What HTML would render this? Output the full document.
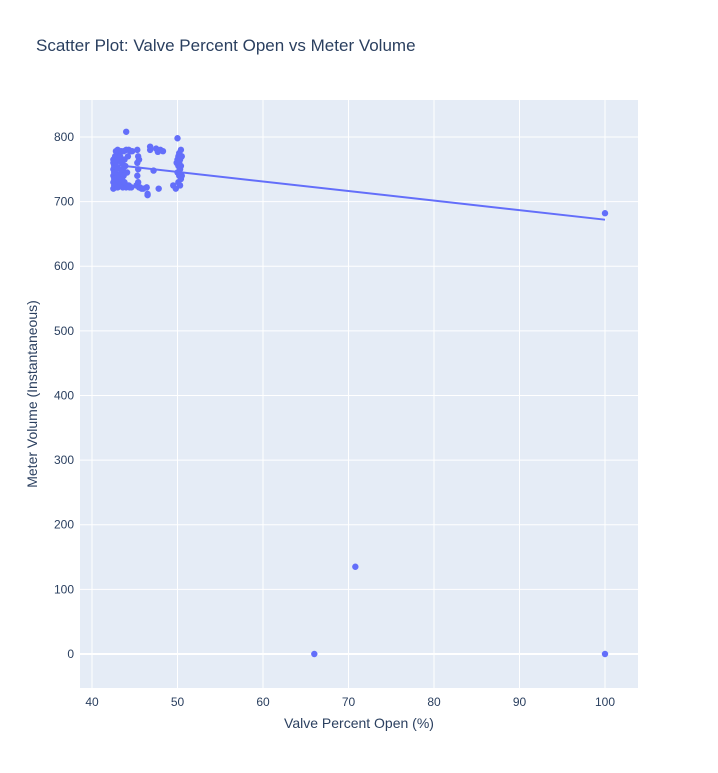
<!DOCTYPE html>
<html><head><meta charset="utf-8"><style>
body{margin:0;background:#fff;font-family:"Liberation Sans",sans-serif;}
svg text{font-family:"Liberation Sans",sans-serif;fill:#2a3f5f;}
</style></head><body>
<svg id="chart" width="718" height="768">
<rect width="718" height="768" fill="#fff"/>
<text x="36" y="51" font-size="17">Scatter Plot: Valve Percent Open vs Meter Volume</text>
<rect x="80" y="100" width="558" height="588" fill="#e5ecf6"/>
<g id="grid"></g><g id="marks"></g><g id="ticks"></g>
<text x="359" y="728" font-size="14" text-anchor="middle">Valve Percent Open (%)</text>
<text transform="translate(37,394) rotate(-90)" font-size="14" text-anchor="middle">Meter Volume (Instantaneous)</text>
</svg>
<script>
const xTicks=[40,50,60,70,80,90,100];
const yTicks=[0,100,200,300,400,500,600,700,800];
const valveX=[42.5,42.5,42.5,42.5,42.5,42.5,42.6,42.6,42.6,42.6,42.7,42.7,42.7,42.8,42.8,42.8,42.9,42.9,43.0,43.0,43.0,43.1,43.1,43.2,43.3,43.3,43.4,43.4,43.5,43.5,43.6,43.6,43.7,43.7,43.8,43.8,43.9,44.0,44.0,44.1,44.2,44.3,44.3,44.4,44.5,44.6,44.7,45.2,45.3,45.3,45.3,45.4,45.4,45.4,45.5,45.5,45.6,45.8,46.0,46.4,46.5,46.8,46.8,47.2,47.5,47.7,47.8,48.0,48.3,49.5,49.8,49.9,50.0,50.0,50.0,50.1,50.1,50.1,50.2,50.2,50.2,50.3,50.3,50.3,50.4,50.4,50.4,50.5,50.5,44.0,46.5,66,70.8,100,100];
const meterY=[720,730,740,750,760,765,725,735,745,755,722,745,770,728,760,778,735,775,722,752,780,740,765,730,725,770,745,778,735,760,722,750,740,778,730,765,755,722,780,745,770,725,780,722,778,722,778,725,740,760,780,730,750,770,722,765,722,720,720,722,710,780,785,748,782,777,720,780,778,725,720,760,745,765,798,730,755,770,740,760,775,725,750,765,735,755,780,740,770,808,712,0,135,682,0];
const fitX=[42.5,100];
const fitY=[757,672];
const sx=v=>-250+v*8.55, sy=v=>654-v*0.6463;
const NS='http://www.w3.org/2000/svg';
const g=document.getElementById('grid'),m=document.getElementById('marks'),t=document.getElementById('ticks');
function mk(p,tag,a){const e=document.createElementNS(NS,tag);for(const k in a)e.setAttribute(k,a[k]);p.appendChild(e);return e;}
xTicks.forEach(v=>{
 const l=mk(g,'line',{x1:sx(v),x2:sx(v),y1:100,y2:688,stroke:'#fff','stroke-width':1});
 
 
 const tx=mk(t,'text',{x:sx(v),y:706,'font-size':12,'text-anchor':'middle'});tx.textContent=v;
 
 
});
yTicks.forEach(v=>{
 const l=mk(g,'line',{x1:80,x2:638,y1:sy(v),y2:sy(v),stroke:'#fff','stroke-width':v===0?2:1});
 
 
 const tx=mk(t,'text',{x:74,y:sy(v)+4,'font-size':12,'text-anchor':'end'});tx.textContent=v;
 
 
});
valveX.forEach((x,i)=>{
 const c=mk(m,'circle',{cx:sx(x),cy:sy(meterY[i]),r:3.2,fill:'#636efa'});
 
 
});
const fl=mk(m,'line',{x1:sx(fitX[0]),y1:sy(fitY[0]),x2:sx(fitX[1]),y2:sy(fitY[1]),stroke:'#636efa','stroke-width':2});


</script>
</body></html>
